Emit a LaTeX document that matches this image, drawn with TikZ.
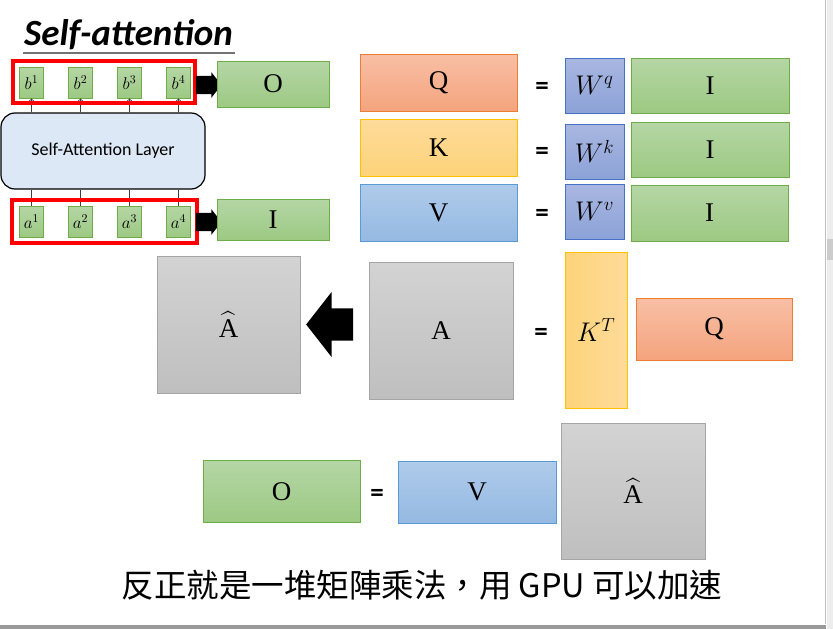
\RequirePackage{fix-cm}
\documentclass[tikz,border=0pt]{standalone}
\usepackage{amsmath}
\usepackage{fontspec}
\setmainfont{Liberation Serif}
\newfontfamily\calib{Carlito}
\newfontfamily\cjk{Noto Sans CJK TC}
\usetikzlibrary{shapes.arrows}
\definecolor{grnEdge}{HTML}{70AD47}
\definecolor{grnTop}{HTML}{B5D6A5}
\definecolor{grnBot}{HTML}{9CC983}
\definecolor{orgEdge}{HTML}{ED7D31}
\definecolor{orgTop}{HTML}{F8BFA5}
\definecolor{orgBot}{HTML}{F4A47E}
\definecolor{ylwEdge}{HTML}{FFC000}
\definecolor{ylwTop}{HTML}{FEDB9A}
\definecolor{ylwBot}{HTML}{FDD37A}
\definecolor{bluEdge}{HTML}{5B9BD5}
\definecolor{bluTop}{HTML}{AFCBEA}
\definecolor{bluBot}{HTML}{95B9E2}
\definecolor{wEdge}{HTML}{4472C4}
\definecolor{wTop}{HTML}{A9B7E1}
\definecolor{wBot}{HTML}{8CA2D7}
\definecolor{gryEdge}{HTML}{A5A5A5}
\definecolor{gryTop}{HTML}{D3D3D3}
\definecolor{gryBot}{HTML}{BFBFBF}
\definecolor{layerFill}{HTML}{DCE8F5}

\begin{document}
\begin{tikzpicture}[x=1pt,y=-1pt,
  mat/.style={draw=#1,line width=0.9pt,inner sep=0pt,font=\fontsize{27}{31}\selectfont},
  grnmat/.style={mat=grnEdge,top color=grnTop,bottom color=grnBot},
  orgmat/.style={mat=orgEdge,top color=orgTop,bottom color=orgBot},
  ylwmat/.style={mat=ylwEdge,top color=ylwTop,bottom color=ylwBot},
  blumat/.style={mat=bluEdge,top color=bluTop,bottom color=bluBot},
  wmat/.style={mat=wEdge,top color=wTop,bottom color=wBot,minimum width=59,minimum height=55,font=\fontsize{27}{31}\selectfont},
  grymat/.style={mat=gryEdge,top color=gryTop,bottom color=gryBot,minimum width=144,minimum height=137},
  tok/.style={grnmat,minimum width=24,minimum height=31,font=\fontsize{17}{20}\selectfont},
  eqsign/.style={font=\calib\bfseries\fontsize{27}{31}\selectfont,inner sep=0pt},
  redframe/.style={draw=red,line width=3.5pt,inner sep=0pt},
  blockarr/.style={single arrow,fill=black,inner sep=#1,single arrow tip angle=104},
  link/.style={draw=black!75,line width=0.8pt}]
\useasboundingbox (0,0) rectangle (833,629);
% window edges
\fill[black!7] (826.5,0) rectangle (833,629);
\fill[black!20] (827,239) rectangle (833,260);
\draw[black!25,line width=1.2pt] (825.5,0) -- (825.5,624);
\fill[black!40] (0,624.5) rectangle (826,629);
% title
\node[anchor=base west,inner sep=0pt,font=\calib\bfseries\itshape\fontsize{37}{42}\selectfont] (title) at (24,45) {Self-attention};
\draw[black!55,line width=1.1pt] (23,53) -- (235,53);
% layer with tokens
\node[draw,line width=1.2pt,fill=layerFill,rounded corners=14pt,minimum width=204,minimum height=76,font=\calib\fontsize{18}{21}\selectfont] (layer) at (103,151) {Self-Attention Layer};
\node[tok] (b1) at (31.5,82.5) {$b^1$}; \node[tok] (b2) at (80.5,82.5) {$b^2$};
\node[tok] (b3) at (129.5,82.5) {$b^3$}; \node[tok] (b4) at (178.5,82.5) {$b^4$};
\node[tok] (a1) at (31.5,221.5) {$a^1$}; \node[tok] (a2) at (80.5,221.5) {$a^2$};
\node[tok] (a3) at (129.5,221.5) {$a^3$}; \node[tok] (a4) at (178.5,221.5) {$a^4$};
\draw[link,->] (layer.north -| b1) -- (b1.south); \draw[link,->] (layer.north -| b2) -- (b2.south);
\draw[link,->] (layer.north -| b3) -- (b3.south); \draw[link,->] (layer.north -| b4) -- (b4.south);
\draw[link] (a1.north) -- (layer.south -| a1); \draw[link] (a2.north) -- (layer.south -| a2);
\draw[link] (a3.north) -- (layer.south -| a3); \draw[link] (a4.north) -- (layer.south -| a4);
\node[redframe,minimum width=182,minimum height=42] (outs) at (104,82) {};
\node[redframe,minimum width=185,minimum height=43] (ins) at (104.5,221.5) {};
\node[blockarr=9pt,minimum height=18pt,single arrow head extend=3.5pt] (toO) at (205,85) {};
\node[blockarr=9pt,minimum height=18pt,single arrow head extend=3.5pt] (toI) at (205,222) {};
\node[grnmat,minimum width=112,minimum height=46] (O) at (273,84) {O};
\node[grnmat,minimum width=112,minimum height=41] (I) at (273,219.5) {I};
% Q K V
\node[orgmat,minimum width=157,minimum height=57] (Q) at (438.5,82.5) {Q};
\node[ylwmat,minimum width=157,minimum height=57] (K) at (438.5,147.5) {K};
\node[blumat,minimum width=157,minimum height=57] (V) at (438.5,212.5) {V};
\node[eqsign] (eq1) at (542,88) {=}; \node[eqsign] (eq2) at (542,153) {=}; \node[eqsign] (eq3) at (542,215) {=};
\node[wmat] (Wq) at (594.5,85.5) {$W^q$};
\node[wmat] (Wk) at (594.5,151.5) {$W^k$};
\node[wmat] (Wv) at (594.5,211.5) {$W^v$};
\node[grnmat,minimum width=158,minimum height=55] (Iq) at (710,85.5) {I};
\node[grnmat,minimum width=158,minimum height=55] (Ik) at (710,149.5) {I};
\node[grnmat,minimum width=157,minimum height=56] (Iv) at (709.5,213) {I};
% attention
\node[grymat,minimum width=143] (Ahat) at (228.5,324.5) {$\widehat{\text{A}}$};
\node[blockarr=16pt,minimum height=47pt,single arrow head extend=16.5pt,shape border rotate=180] (norm) at (336,324.5) {};
\node[grymat] (A) at (441,330.5) {A};
\node[eqsign] (eq4) at (541,334) {=};
\node[mat=ylwEdge,left color=ylwBot,right color=ylwTop,minimum width=62,minimum height=156,font=\fontsize{27}{31}\selectfont] (KT) at (596,330) {$K^T$};
\node[orgmat,minimum width=156,minimum height=62] (Q2) at (714,329) {Q};
% output
\node[grnmat,minimum width=157,minimum height=62] (O2) at (281.5,491.5) {O};
\node[eqsign] (eq5) at (377,495) {=};
\node[blumat,minimum width=158,minimum height=62] (V2) at (477,492) {V};
\node[grymat,minimum height=136] (Ahat2) at (633,491) {$\widehat{\text{A}}$};
\node[font=\cjk\fontsize{32.5}{38}\selectfont] (note) at (422,585) {反正就是一堆矩陣乘法，用 GPU 可以加速};
\end{tikzpicture}
\end{document}
